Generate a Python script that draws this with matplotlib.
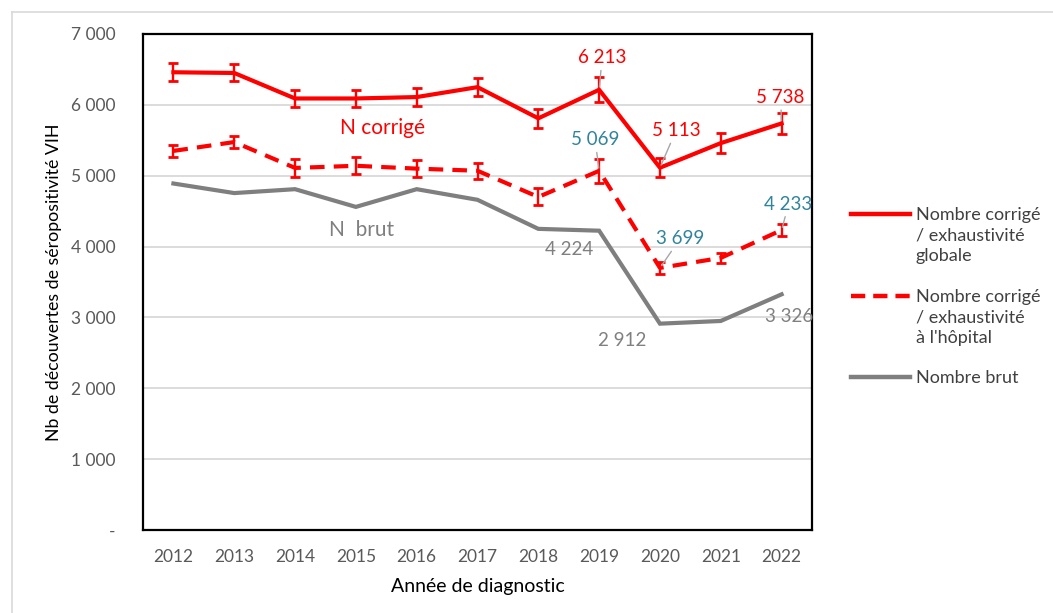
import matplotlib
matplotlib.use("Agg")
import matplotlib.pyplot as plt
from matplotlib.lines import Line2D
from matplotlib.ticker import FuncFormatter

plt.rcParams['font.family'] = ['Lato', 'DejaVu Sans']

years = ['2012', '2013', '2014', '2015', '2016', '2017', '2018', '2019', '2020', '2021', '2022']
n_corr_global = [6460, 6450, 6090, 6090, 6110, 6250, 5810, 6213, 5113, 5460, 5738]
err_global = [125, 120, 125, 125, 125, 125, 130, 175, 135, 140, 150]
n_corr_hop = [5350, 5475, 5110, 5140, 5100, 5070, 4700, 5069, 3699, 3840, 4233]
err_hop = [90, 90, 130, 120, 125, 115, 120, 170, 90, 75, 80]
n_brut = [4890, 4755, 4810, 4560, 4810, 4660, 4250, 4224, 2912, 2950, 3326]

leg_labels = ["Nombre corrigé\n/ exhaustivité\nglobale",
              "Nombre corrigé\n/ exhaustivité\nà l'hôpital",
              "Nombre brut"]

RED = '#ff0000'
GRAY = '#7f7f7f'
BLUE = '#31849b'
TXT = '#595959'

W, H = 1053, 613
fig = plt.figure(figsize=(W / 100, H / 100), dpi=100)
ax = fig.add_axes([143 / W, 1 - 530 / H, (812 - 143) / W, (530 - 34) / H])

x = list(range(len(years)))

ax.plot(x, n_brut, color=GRAY, lw=3, solid_joinstyle='miter', zorder=3)
ax.errorbar(x, n_corr_hop, yerr=err_hop, color=RED, lw=3, ls=(0, (3.5, 2.2)),
            elinewidth=1.7, capsize=3.8, capthick=2, zorder=4)
ax.errorbar(x, n_corr_global, yerr=err_global, color=RED, lw=3,
            elinewidth=1.7, capsize=3.8, capthick=2, zorder=5)

ax.set_xlim(-0.5, len(years) - 0.5)
ax.set_ylim(0, 7000)
ax.set_xticks(x)
ax.set_xticklabels(years)
ax.set_yticks(range(0, 7001, 1000))
ax.yaxis.set_major_formatter(FuncFormatter(
    lambda v, p: '-' if v == 0 else f"{int(v):,}".replace(',', ' ')))
ax.tick_params(axis='both', length=0, labelsize=12.5, colors=TXT)
ax.tick_params(axis='x', pad=14)
ax.tick_params(axis='y', pad=20)
ax.grid(axis='y', color='#d9d9d9', lw=1.3)
ax.set_axisbelow(True)
for s in ax.spines.values():
    s.set_color('black')
    s.set_linewidth(1.6)

ax.set_xlabel("Année de diagnostic", fontsize=14, color='black', labelpad=9)
ax.set_ylabel("Nb de découvertes de séropositivité VIH", fontsize=12.8,
              color='black', labelpad=6)

PT = 0.72  # points per pixel at 100 dpi


def lab(i, series, text, dx, dy, color, leader=True):
    kw = {}
    if leader:
        kw['arrowprops'] = dict(arrowstyle='-', color='#a6a6a6', lw=1.0,
                                shrinkA=1, shrinkB=2)
    ax.annotate(text, xy=(i, series[i]), xytext=(dx * PT, -dy * PT),
                textcoords='offset points', ha='center', va='center',
                fontsize=13.5, color=color, zorder=6, **kw)


lab(7, n_corr_global, "6 213", 3, -32, RED)
lab(8, n_corr_global, "5 113", 16, -37, RED)
lab(10, n_corr_global, "5 738", -1, -26, RED)
lab(7, n_corr_hop, "5 069", -4, -31, BLUE)
lab(8, n_corr_hop, "3 699", 20, -29, BLUE)
lab(10, n_corr_hop, "4 233", 7, -26, BLUE)
lab(7, n_brut, "4 224", -30, 19, '#808080', leader=False)
lab(8, n_brut, "2 912", -38, 17, '#808080', leader=False)
lab(10, n_brut, "3 326", 8, 22, '#808080', leader=False)

ax.text(3.44, 5673, "N corrigé", color=RED, fontsize=15, ha='center', va='center')
ax.text(3.09, 4234, "N  brut", color=GRAY, fontsize=15, ha='center', va='center')

# legend drawn on the figure
def fx(px):
    return px / W


def fy(py):
    return 1 - py / H


styles = [dict(color=RED, lw=3.2, ls='-'),
          dict(color=RED, lw=3.2, ls=(0, (3.2, 1.8))),
          dict(color=GRAY, lw=3.2, ls='-')]
ys = [214, 296, 377]
for st, yy, txt in zip(styles, ys, leg_labels):
    fig.add_artist(Line2D([fx(851), fx(910)], [fy(yy), fy(yy)], **st))
    fig.text(fx(916), fy(yy - 7), txt, ha='left', va='top', fontsize=13,
             color='#404040', linespacing=1.36)

# outer chart frame
fig.add_artist(Line2D([fx(12), fx(12)], [fy(12), 0], color='#d9d9d9', lw=1.2))
fig.add_artist(Line2D([fx(12), 1], [fy(12), fy(12)], color='#d9d9d9', lw=1.2))

fig.savefig('out.png', dpi=100)
